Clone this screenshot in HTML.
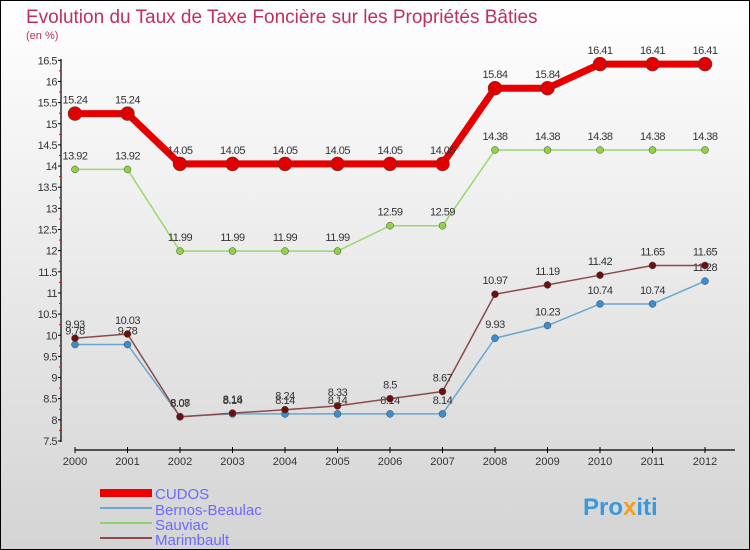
<!DOCTYPE html>
<html><head><meta charset="utf-8"><style>
body{margin:0}
#c{width:750px;height:550px;position:relative;box-sizing:border-box;border:1px solid #000;background:linear-gradient(#fff,#d4d4d4);font-family:"Liberation Sans",sans-serif;overflow:hidden}
</style></head><body>
<div id="c">
<svg width="748" height="548" viewBox="1 1 748 548" id="s">
<text x="26" y="23" font-size="19" fill="#c0305a">Evolution du Taux de Taxe Foncière sur les Propriétés Bâties</text>
<text x="26" y="39" font-size="11" fill="#c0305a">(en %)</text>
<g id="axes"></g><g id="series"></g>
<g id="legend">
<rect x="100" y="489" width="52" height="8" fill="#e00"/>
<text x="155" y="499" font-size="15" fill="#6a6aff">CUDOS</text>
<line x1="100" y1="508" x2="152" y2="508" stroke="#6aa6cf" stroke-width="2"/>
<text x="155" y="515" font-size="15" fill="#6a6aff">Bernos-Beaulac</text>
<line x1="100" y1="523" x2="152" y2="523" stroke="#8fd46a" stroke-width="2"/>
<text x="155" y="530" font-size="15" fill="#6a6aff">Sauviac</text>
<line x1="100" y1="538" x2="152" y2="538" stroke="#8a4a4a" stroke-width="2"/>
<text x="155" y="545" font-size="15" fill="#6a6aff">Marimbault</text>
</g>
<text x="583" y="515" font-size="24" font-weight="bold" fill="#3a9ad9">Pro<tspan fill="#f0a020">x</tspan>iti</text>
</svg></div>
<script>
const years=[2000,2001,2002,2003,2004,2005,2006,2007,2008,2009,2010,2011,2012];
const cudos=[15.24,15.24,14.05,14.05,14.05,14.05,14.05,14.05,15.84,15.84,16.41,16.41,16.41];
const bernos=[9.78,9.78,8.08,8.14,8.14,8.14,8.14,8.14,9.93,10.23,10.74,10.74,11.28];
const sauviac=[13.92,13.92,11.99,11.99,11.99,11.99,12.59,12.59,14.38,14.38,14.38,14.38,14.38];
const marimbault=[9.93,10.03,8.07,8.16,8.24,8.33,8.5,8.67,10.97,11.19,11.42,11.65,11.65];
const yTicks=[7.5,8,8.5,9,9.5,10,10.5,11,11.5,12,12.5,13,13.5,14,14.5,15,15.5,16,16.5];
const NS="http://www.w3.org/2000/svg";
const X=i=>75+i*52.5;
const Y=v=>441-(v-7.5)*42.3;
function mk(tag,attrs,parent,text){const e=document.createElementNS(NS,tag);for(const k in attrs)e.setAttribute(k,attrs[k]);if(text!==undefined)e.textContent=text;parent.appendChild(e);return e;}
const ax=document.getElementById('axes');
let e=mk('line',{x1:61,y1:59,x2:61,y2:442,stroke:'#000','stroke-width':1.2},ax);


e=mk('line',{x1:75,y1:450,x2:735,y2:450,stroke:'#000','stroke-width':1.2},ax);


yTicks.forEach((t,i)=>{
  mk('line',{x1:58,y1:Y(t),x2:61,y2:Y(t),stroke:'#000'},ax);
  if(i<yTicks.length-1)mk('line',{x1:59,y1:Y(t+0.25),x2:61,y2:Y(t+0.25),stroke:'#e00'},ax);
  const l=mk('text',{x:57,y:Y(t)+4,'font-size':11,'text-anchor':'end',fill:'#333','letter-spacing':'-0.5'},ax,String(t));
  
  
});
years.forEach((y,i)=>{
  mk('line',{x1:X(i),y1:447,x2:X(i),y2:453,stroke:'#000'},ax);
  const l=mk('text',{x:X(i),y:465,'font-size':11,'text-anchor':'middle',fill:'#333'},ax,String(y));
  
  
});
const sg=document.getElementById('series');
function draw(name,vals,color,w,r,dot,lc){
  const g=mk('g',{},sg);
  
  
  const p=mk('polyline',{points:vals.map((v,i)=>X(i)+','+Y(v)).join(' '),fill:'none',stroke:color,'stroke-width':w,'stroke-linejoin':'round'},g);
  
  
  vals.forEach((v,i)=>{
    const c=mk('circle',{cx:X(i),cy:Y(v),r:r,fill:dot,stroke:'#444','stroke-width':0.5},g);
    
    
    const t=mk('text',{x:X(i),y:Y(v)-10,'font-size':11,'text-anchor':'middle',fill:'#333','letter-spacing':'-0.5'},g,String(v));
    
    
  });
}
draw('sauviac',sauviac,'#9ad870',1.5,3.5,'#8fd440');
draw('bernos-beaulac',bernos,'#6aa6cf',1.5,3.5,'#3a8ed0');
draw('marimbault',marimbault,'#8a4a4a',1.5,3.5,'#6a1010');
draw('cudos',cudos,'#e80000',7,7,'#e00000');
</script>
</body></html>
